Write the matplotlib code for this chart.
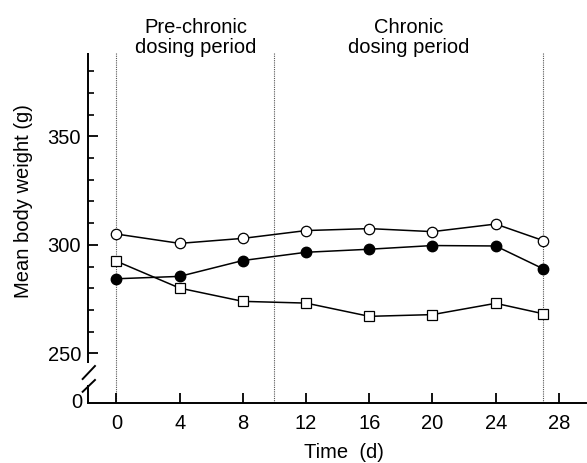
"""
Mean body weight over time, pre-chronic and chronic dosing periods
"""
import numpy as np
import matplotlib
matplotlib.use('Agg')
import matplotlib.pyplot as plt
import matplotlib.transforms as mtransforms

plt.rcParams['font.family'] = ['Liberation Sans', 'DejaVu Sans']

# data
days = [0, 4, 8, 12, 16, 20, 24, 27]
open_circle = [305.0, 300.7, 303.0, 306.6, 307.5, 306.1, 309.6, 302.0]
filled_circle = [284.4, 285.5, 292.8, 296.6, 298.0, 299.7, 299.5, 289.0]
open_square = [292.5, 280.1, 274.0, 273.2, 267.1, 267.9, 273.1, 268.3]

period_bounds = [0, 10, 27]
period_labels = ['Pre-chronic\ndosing period', 'Chronic\ndosing period']
xticks = [0, 4, 8, 12, 16, 20, 24, 28]
yticks = [250, 300, 350]

fs = 14.5

fig = plt.figure(figsize=(5.87, 4.63), dpi=100)
ax = fig.add_axes([0.1499, 0.1296, 0.848, 0.7566])

ax.set_xlim(-1.8, 29.7)
ax.set_ylim(227.2, 388.5)

# dosing period boundaries
for b in period_bounds:
    ax.axvline(b, color='#555555', linestyle=(0, (1, 1)), linewidth=0.8, zorder=1)

ax.plot(days, open_square, color='black', linewidth=1.1, marker='s', markersize=6.5,
        markerfacecolor='white', markeredgecolor='black', markeredgewidth=0.9, zorder=3)
ax.plot(days, filled_circle, color='black', linewidth=1.1, marker='o', markersize=7.5,
        markerfacecolor='black', markeredgecolor='black', zorder=3)
ax.plot(days, open_circle, color='black', linewidth=1.1, marker='o', markersize=7.5,
        markerfacecolor='white', markeredgecolor='black', markeredgewidth=0.9, zorder=3)

# period labels above the plot
trans = mtransforms.blended_transform_factory(ax.transData, ax.transAxes)
mids = [(period_bounds[i] + period_bounds[i + 1]) / 2 for i in range(2)]
for m, lab in zip(mids, period_labels):
    ax.text(m, 1.043, lab, transform=trans, ha='center', va='center',
            fontsize=fs, linespacing=1.05)

# axes styling
for s in ['top', 'right']:
    ax.spines[s].set_visible(False)
ax.spines['left'].set_visible(False)
ax.spines['bottom'].set_linewidth(1.4)

# left spine with a break
lw = 1.4
ax.plot([0, 0], [0.114, 1.0], transform=ax.transAxes, color='black',
        linewidth=lw, clip_on=False, solid_capstyle='butt')
ax.plot([0, 0], [0.0, 0.05], transform=ax.transAxes, color='black',
        linewidth=lw, clip_on=False, solid_capstyle='butt')
ax.plot([-0.0107, 0.014], [0.0685, 0.1056], transform=ax.transAxes, color='black',
        linewidth=lw, clip_on=False)
ax.plot([-0.0107, 0.014], [0.032, 0.0657], transform=ax.transAxes, color='black',
        linewidth=lw, clip_on=False)
ax.text(-0.011, 0.0, '0', transform=ax.transAxes, ha='right', va='center', fontsize=fs)

ax.set_xticks(xticks)
ax.set_yticks(yticks)
ax.set_yticks([v for v in range(260, 390, 10) if v not in yticks], minor=True)
ax.tick_params(axis='both', which='major', direction='in', length=7, width=1.3,
               labelsize=fs)
ax.tick_params(axis='x', which='major', pad=8)
ax.tick_params(axis='y', which='major', pad=5)
ax.tick_params(axis='y', which='minor', direction='in', length=4.5, width=1.2)

ax.set_xlabel('Time  (d)', fontsize=fs)
ax.set_ylabel('Mean body weight (g)', fontsize=fs)
ax.xaxis.set_label_coords(0.514, -0.113)
ax.yaxis.set_label_coords(-0.11, 0.577)

fig.savefig('out.png', dpi=100)
plt.close(fig)
